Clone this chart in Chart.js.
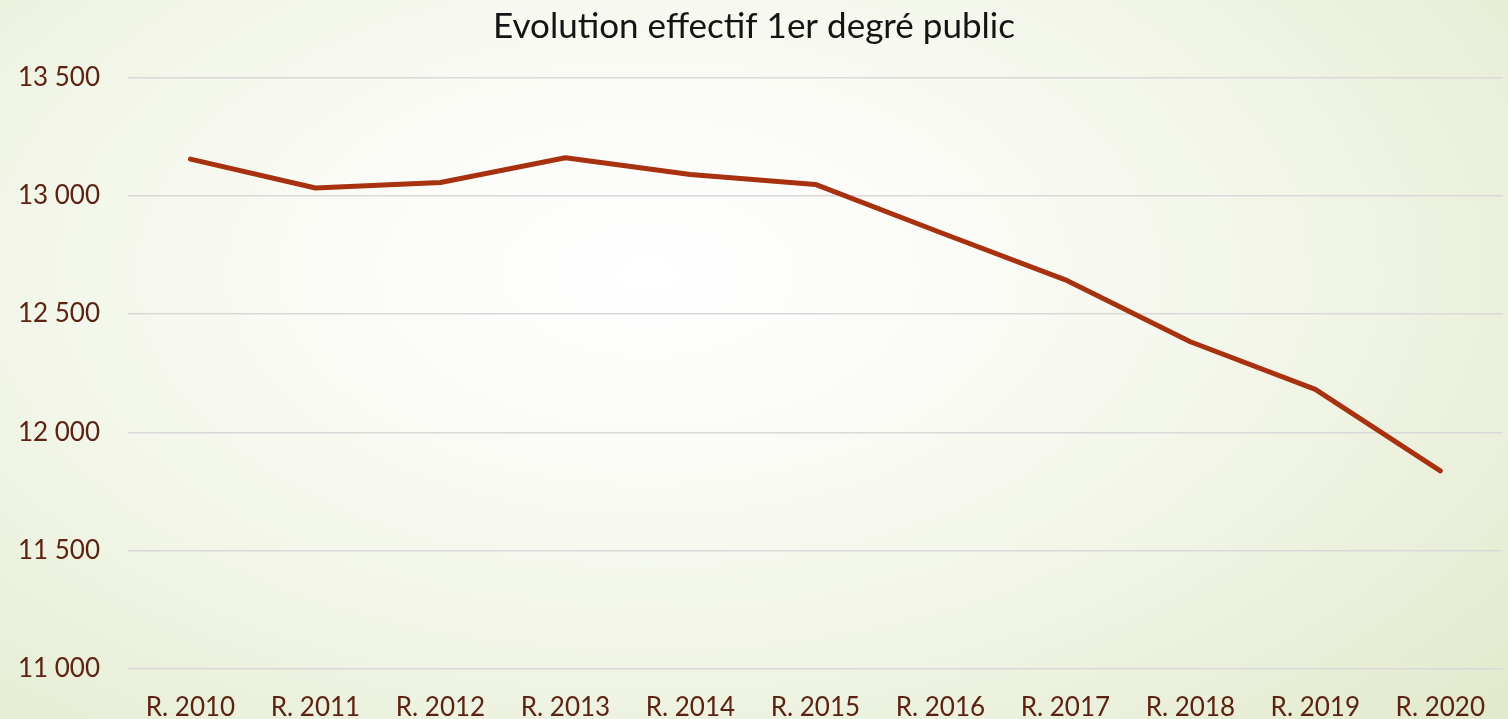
<!DOCTYPE html>
<html>
<head>
<meta charset="utf-8">
<script src="https://cdn.jsdelivr.net/npm/chart.js@4/dist/chart.umd.min.js"></script>
<style>
  html, body { margin: 0; padding: 0; width: 1508px; height: 719px; overflow: hidden; }
  body { background: radial-gradient(ellipse 75% 90% at 43% 38%, #ffffff 0%, #fbfcf8 25%, #f1f5e6 60%, #e2eacd 100%); }
  #wrap { position: absolute; left: 0; top: 0; width: 1508px; height: 719px; }
</style>
</head>
<body>
<div id="wrap"><canvas id="c" width="1508" height="719"></canvas></div>
<script>
const categories = ["R. 2010","R. 2011","R. 2012","R. 2013","R. 2014","R. 2015","R. 2016","R. 2017","R. 2018","R. 2019","R. 2020"];
const effectif = [13155, 13033, 13056, 13161, 13090, 13048, 12845, 12645, 12383, 12182, 11837];
const yTicks = [11000, 11500, 12000, 12500, 13000, 13500];
const titleText = "Evolution effectif 1er degré public";

const FONT = "Lato, 'Open Sans', 'DejaVu Sans', sans-serif";
const TEXT = "#5c2212";

new Chart(document.getElementById('c'), {
  type: 'line',
  data: {
    labels: categories,
    datasets: [{
      label: 'Effectif',
      data: effectif,
      borderColor: '#a8320f',
      borderWidth: 5,
      pointRadius: 0,
      tension: 0,
      borderCapStyle: 'round',
      borderJoinStyle: 'round',
      fill: false
    }]
  },
  options: {
    responsive: false,
    animation: false,
    layout: { padding: { left: 0, right: 0, top: 6, bottom: 0 } },
    plugins: {
      legend: { display: false },
      tooltip: { enabled: false },
      title: {
        display: true,
        text: titleText,
        color: '#141414',
        font: { family: FONT, size: 35, weight: 'normal' },
        padding: { top: 0, bottom: 29.5 }
      }
    },
    scales: {
      x: {
        offset: true,
        grid: { display: false, drawTicks: false },
        border: { display: false },
        ticks: { color: TEXT, font: { family: FONT, size: 26 }, padding: 23, maxRotation: 0, autoSkip: false },
        afterFit: s => { s.height = 50; }
      },
      y: {
        min: 11000,
        max: 13500,
        afterBuildTicks: s => { s.ticks = yTicks.map(v => ({ value: v })); },
        grid: { color: '#d9d9d9', lineWidth: 1.5, drawTicks: false },
        border: { display: false },
        ticks: {
          color: TEXT,
          font: { family: FONT, size: 26 },
          padding: 28,
          callback: v => String(v).replace(/\B(?=(\d{3})+(?!\d))/g, ' ')
        },
        afterFit: s => { s.width = 128; }
      }
    }
  }
});
</script>
</body>
</html>
